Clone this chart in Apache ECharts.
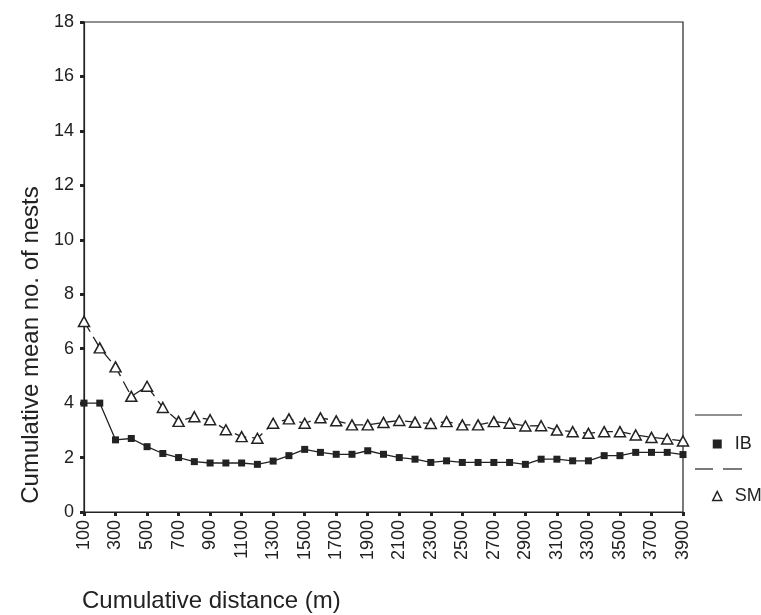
<!DOCTYPE html>
<html>
<head>
<meta charset="utf-8">
<script src="https://cdn.jsdelivr.net/npm/echarts@6/dist/echarts.min.js"></script>
<style>
  html, body { margin: 0; padding: 0; background: #fff; }
  #chart { width: 761px; height: 615px; }
</style>
</head>
<body>
<div id="chart"></div>
<script>
var categories = ['100','200','300','400','500','600','700','800','900','1000',
  '1100','1200','1300','1400','1500','1600','1700','1800','1900','2000',
  '2100','2200','2300','2400','2500','2600','2700','2800','2900','3000',
  '3100','3200','3300','3400','3500','3600','3700','3800','3900'];
var ibValues = [4.0, 4.0, 2.65, 2.7, 2.4, 2.15, 2.0, 1.85, 1.8, 1.8,
  1.8, 1.75, 1.87, 2.07, 2.3, 2.19, 2.12, 2.12, 2.25, 2.12,
  2.0, 1.94, 1.82, 1.88, 1.82, 1.82, 1.82, 1.82, 1.75, 1.94,
  1.94, 1.88, 1.88, 2.07, 2.07, 2.19, 2.19, 2.19, 2.11];
var smValues = [7.0, 6.03, 5.33, 4.25, 4.62, 3.84, 3.33, 3.5, 3.39, 3.02,
  2.77, 2.71, 3.26, 3.42, 3.26, 3.46, 3.35, 3.2, 3.2, 3.29,
  3.36, 3.3, 3.25, 3.32, 3.2, 3.2, 3.32, 3.26, 3.16, 3.17,
  3.01, 2.95, 2.89, 2.95, 2.95, 2.83, 2.74, 2.68, 2.61];
var yTicks = { min: 0, max: 18, interval: 2 };
var seriesNames = ['IB', 'SM'];
var yTitle = 'Cumulative mean no. of nests';
var xTitle = 'Cumulative distance (m)';

var ink = '#222';
var font = 'Liberation Sans, Arial, sans-serif';
var chart = echarts.init(document.getElementById('chart'), null, { renderer: 'canvas' });
chart.setOption({
  backgroundColor: '#fff',
  animation: false,
  title: {
    text: xTitle,
    left: 82,
    top: 589,
    padding: 0,
    textStyle: { fontFamily: font, fontSize: 24, fontWeight: 'normal', color: ink }
  },
  grid: {
    left: 84, right: 78, top: 22, bottom: 103,
    show: true, borderColor: ink, borderWidth: 1.2, backgroundColor: '#fff'
  },
  legend: {
    orient: 'vertical',
    left: 707,
    top: 430,
    itemGap: 34,
    itemWidth: 9,
    itemHeight: 9,
    selectedMode: false,
    textStyle: { fontFamily: font, fontSize: 18, color: ink, padding: [0, 0, 0, 8] },
    data: [
      { name: seriesNames[0], icon: 'rect', itemStyle: { color: ink, borderWidth: 0 } },
      { name: seriesNames[1], icon: 'triangle', itemStyle: { color: '#fff', borderColor: ink, borderWidth: 1.5 } }
    ]
  },
  graphic: [
    { type: 'line', shape: { x1: 695, y1: 415, x2: 742, y2: 415 }, style: { stroke: ink, lineWidth: 1.2 } },
    { type: 'line', shape: { x1: 695, y1: 469, x2: 713, y2: 469 }, style: { stroke: ink, lineWidth: 1.2 } },
    { type: 'line', shape: { x1: 723, y1: 469, x2: 742, y2: 469 }, style: { stroke: ink, lineWidth: 1.2 } }
  ],
  xAxis: {
    type: 'category',
    data: categories,
    boundaryGap: false,
    axisLine: { lineStyle: { color: ink, width: 1.2 } },
    axisTick: { show: true, interval: 1, length: 4, lineStyle: { color: ink, width: 3 } },
    axisLabel: { interval: 1, rotate: 90, margin: 8, fontFamily: font, fontSize: 18, color: ink },
    splitLine: { show: false }
  },
  yAxis: {
    type: 'value',
    min: yTicks.min, max: yTicks.max, interval: yTicks.interval,
    name: yTitle,
    nameLocation: 'middle',
    nameGap: 40,
    nameTextStyle: { fontFamily: font, fontSize: 24, color: ink, padding: [0, 156, 0, 0] },
    axisLine: { show: true, lineStyle: { color: ink, width: 1.2 } },
    axisTick: { show: true, length: 4, lineStyle: { color: ink, width: 3 } },
    axisLabel: { margin: 10, fontFamily: font, fontSize: 18, color: ink },
    splitLine: { show: false }
  },
  series: [
    {
      name: seriesNames[0],
      type: 'line',
      data: ibValues,
      symbol: 'rect',
      symbolSize: 7,
      lineStyle: { color: ink, width: 1.3 },
      itemStyle: { color: ink, borderWidth: 0 },
      z: 3
    },
    {
      name: seriesNames[1],
      type: 'line',
      data: smValues,
      symbol: 'triangle',
      symbolSize: [11, 10],
      lineStyle: { color: ink, width: 1.3, type: [12, 6] },
      itemStyle: { color: '#fff', borderColor: ink, borderWidth: 1.5 },
      z: 4
    }
  ]
});
</script>
</body>
</html>
